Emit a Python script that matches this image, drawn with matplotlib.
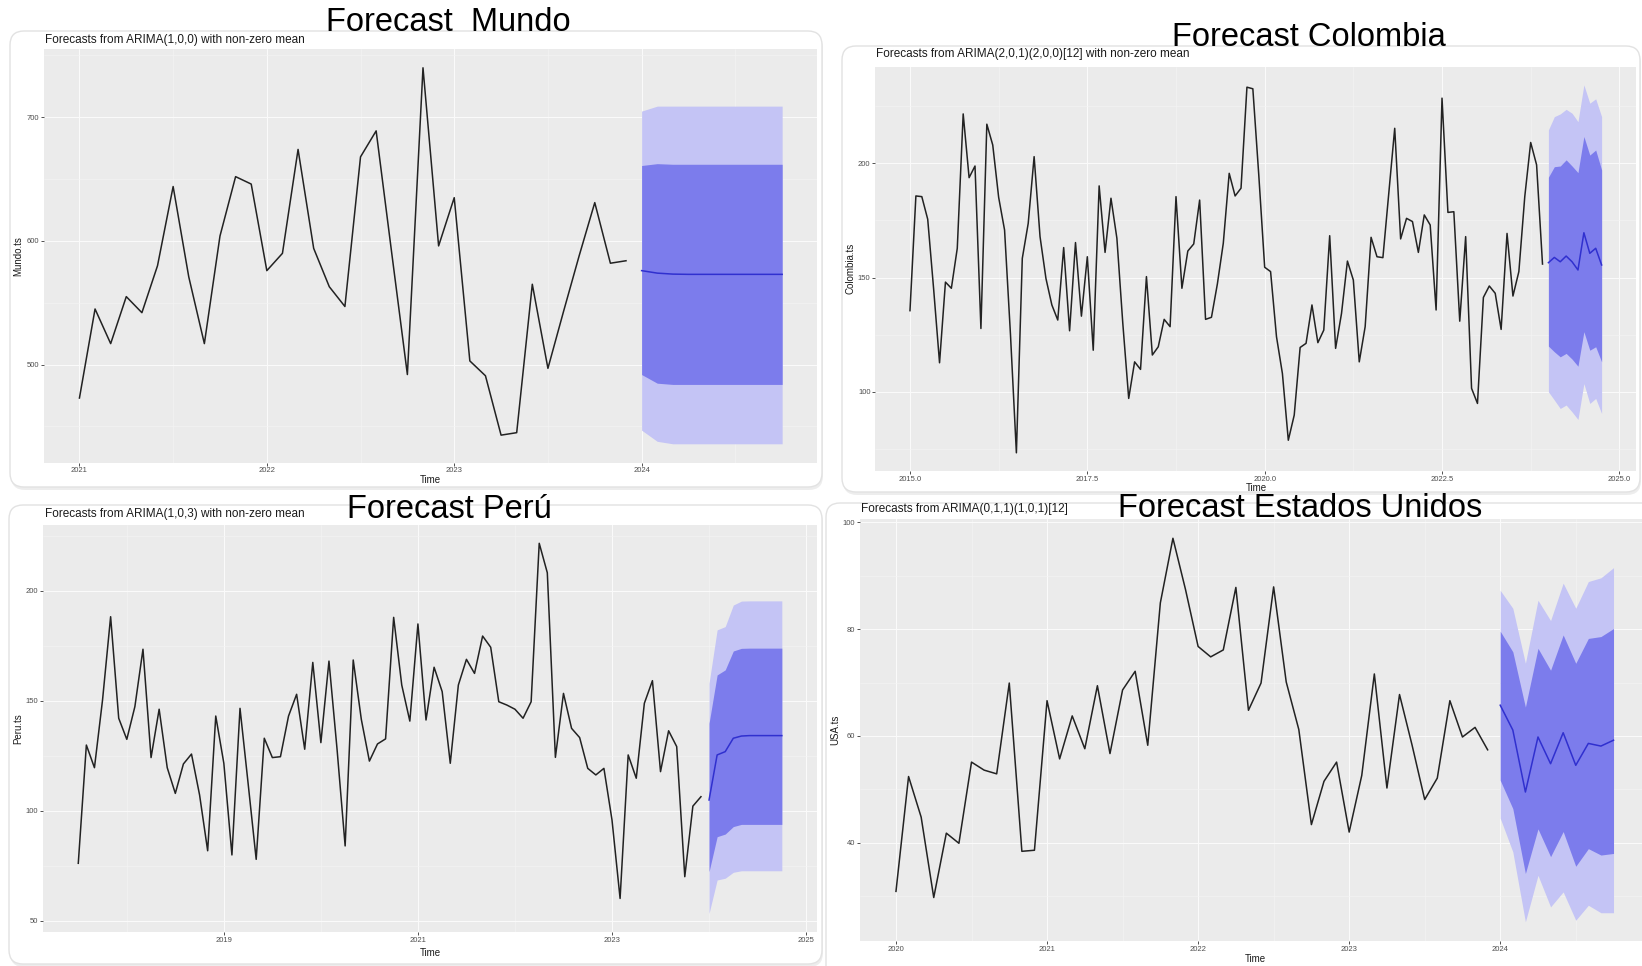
import matplotlib
matplotlib.use('Agg')
import matplotlib.pyplot as plt
import numpy as np
from matplotlib.patches import FancyBboxPatch
from matplotlib.transforms import IdentityTransform
from matplotlib.ticker import FixedLocator, FormatStrFormatter

W, H = 1642, 966
plt.rcParams['font.family'] = ['Liberation Sans', 'DejaVu Sans']

LIGHT = '#C4C4F5'
DARK = '#7C7CEC'
BLUE = '#3030CF'
PANEL = '#EBEBEB'

# ---- Mundo (monthly, from 2021-01) ----
mundo_obs = [473, 545, 517, 555, 542, 580, 644, 571, 517, 604, 652, 646,
             576, 590, 674, 594, 563, 547, 668, 689, 590, 492, 740, 596,
             635, 503, 491, 443, 445, 565, 497, 543, 588, 631, 582, 584]
mundo_mean = [576, 574, 573.2, 573, 573, 573, 573, 573, 573, 573]
mundo_hi80 = [661, 662.5, 662, 662, 662, 662, 662, 662, 662, 662]
mundo_lo80 = [492, 485, 484, 484, 484, 484, 484, 484, 484, 484]
mundo_hi95 = [705, 709, 709, 709, 709, 709, 709, 709, 709, 709]
mundo_lo95 = [447, 438, 436, 436, 436, 436, 436, 436, 436, 436]

# ---- Colombia (monthly, from 2015-01) ----
col_obs = [135.5, 185.7, 185.4, 175.5, 145, 112.7, 148.0, 145.3, 162.8, 221.6,
           193.7, 198.8, 127.7, 217.1, 208.0, 185.1, 170.8, 125, 73.3, 158.4,
           173.7, 202.9, 167.9, 149.6, 138.0, 131.4, 163.1, 126.7, 165.3, 133.1,
           159.1, 118.2, 190.1, 161.0, 184.7, 167.2, 130, 97.1, 113.1, 109.8,
           150.4, 116.1, 119.7, 131.7, 128.5, 185.4, 145.3, 161.6, 164.7, 183.9,
           131.7, 132.6, 147.2, 165.0, 195.6, 185.7, 189.1, 233.3, 232.6, 195,
           154.5, 152.6, 124.1, 108.0, 78.8, 89.8, 119.4, 121.2, 138.0, 121.5,
           127.0, 168.3, 119.0, 134.3, 157.2, 148.9, 113.1, 128.5, 167.6, 159.1,
           158.7, 187, 215.3, 166.9, 175.9, 174.5, 161.0, 177.4, 173.0, 135.8,
           228.5, 178.5, 178.8, 130.9, 167.9, 101.5, 94.9, 141.3, 146.3, 143.1,
           127.3, 169.3, 141.9, 152.6, 185.4, 209.1, 199.3, 155.9]
col_mean = [156.5, 158.8, 156.9, 159.4, 156.9, 153.3, 169.6, 160.6, 162.8, 155.5]
col_hi80 = [193.9, 198.5, 198.8, 201.5, 198.8, 195.9, 211.7, 203.6, 205.8, 197.1]
col_lo80 = [120.0, 117.5, 115.3, 116.8, 114.3, 111.2, 126.3, 118.2, 119.7, 113.1]
col_hi95 = [214.6, 220.4, 221.6, 223.6, 221.9, 218.2, 234.3, 226.3, 228.2, 220.4]
col_lo95 = [100.0, 96.4, 92.7, 94.2, 91.2, 87.9, 103.6, 94.9, 97.1, 90.5]

# ---- Peru (monthly, from 2017-07) ----
peru_obs = [76.1, 129.9, 119.6, 150.4, 188.3, 142.1, 132.5, 147.4, 173.5, 124.2,
            146.2, 119.6, 107.9, 121.3, 125.8, 107.2, 81.8, 143.1, 121.6, 79.9,
            146.6, 112.5, 77.9, 133.0, 124.2, 124.6, 143.1, 153.0, 128.0, 167.5,
            131.0, 168.1, 128, 84.0, 168.6, 141.6, 122.6, 130.4, 132.7, 188.0,
            157.2, 140.8, 185.0, 141.3, 165.3, 154.2, 121.6, 157.2, 168.9, 162.5,
            179.5, 174.4, 149.6, 148.1, 146.2, 142.1, 149.6, 221.7, 208.3, 124.3,
            153.4, 137.5, 133.3, 119.3, 116.3, 119.3, 95.8, 60.1, 125.4, 114.8,
            148.9, 159.2, 117.8, 136.4, 129.2, 70.0, 102.1, 106.4]
peru_mean = [104.9, 125.4, 126.9, 133.0, 134.0, 134.2, 134.2, 134.2, 134.2, 134.2]
peru_hi80 = [139.8, 161.8, 164.1, 172.7, 173.9, 174.0, 174.0, 174.0, 174.0, 174.0]
peru_lo80 = [72.3, 88.2, 89.4, 92.8, 93.8, 93.8, 93.8, 93.8, 93.8, 93.8]
peru_hi95 = [158.0, 182.3, 183.8, 193.6, 195.4, 195.5, 195.5, 195.5, 195.5, 195.5]
peru_lo95 = [53.3, 68.5, 69.3, 72.0, 72.7, 72.7, 72.7, 72.7, 72.7, 72.7]

# ---- USA (monthly, from 2020-01) ----
usa_obs = [30.9, 52.4, 44.8, 29.75, 41.8, 39.9, 55.1, 53.6, 52.9, 69.9, 38.4, 38.6,
           66.6, 55.7, 63.75, 57.6, 69.4, 56.7, 68.6, 72.1, 58.25, 84.9, 97.0, 87.4,
           76.75, 74.8, 76.1, 87.8, 64.8, 69.9, 87.9, 70.1, 61.2, 43.4, 51.5, 55.1,
           42.0, 52.6, 71.6, 50.25, 67.75, 58.25, 48.1, 52.1, 66.6, 59.8, 61.6, 57.4]
usa_mean = [65.75, 61.1, 49.5, 59.8, 54.8, 60.6, 54.5, 58.6, 58.1, 59.2]
usa_hi80 = [79.6, 75.75, 65.4, 76.4, 72.3, 78.9, 73.6, 78.25, 78.6, 80.1]
usa_lo80 = [51.7, 46.4, 34.25, 42.6, 37.4, 42.1, 35.6, 38.9, 37.7, 38.0]
usa_hi95 = [87.25, 83.9, 73.6, 85.4, 81.6, 88.6, 83.9, 88.9, 89.6, 91.5]
usa_lo95 = [44.6, 38.3, 25.2, 33.9, 28.0, 30.8, 25.5, 28.3, 26.9, 26.9]

fig = plt.figure(figsize=(W / 100, H / 100), dpi=100)
fig.patch.set_facecolor('white')


def card(x0, y0, x1, y1):
    # rounded white card with a soft shadow, pixel coords (top-left origin)
    style = 'round,pad=0,rounding_size=14'
    sh = FancyBboxPatch((x0 + 1, H - y1 - 3), x1 - x0, y1 - y0, boxstyle=style,
                        transform=IdentityTransform(), fc='black', alpha=0.07,
                        ec='none', zorder=-3)
    fig.add_artist(sh)
    c = FancyBboxPatch((x0, H - y1), x1 - x0, y1 - y0, boxstyle=style,
                       transform=IdentityTransform(), fc='white', ec='#E2E2E2',
                       lw=1, zorder=-2)
    fig.add_artist(c)


def fx(px):
    return px / W


def fy(py):
    return 1 - py / H


def panel(box, start, obs, mean, lo80, hi80, lo95, hi95, xmaj, xmin_, ymaj, ymin_,
          xfmt, ylabel, ylab_px, xlab_px):
    x0, y0, x1, y1 = box
    ax = fig.add_axes([fx(x0), fy(y1), (x1 - x0) / W, (y1 - y0) / H])
    ax.set_facecolor(PANEL)
    t_obs = start + np.arange(len(obs)) / 12
    t_fc = t_obs[-1] + (np.arange(len(mean)) + 1) / 12
    ax.fill_between(t_fc, lo95, hi95, color=LIGHT, lw=0)
    ax.fill_between(t_fc, lo80, hi80, color=DARK, lw=0)
    ax.plot(t_obs, obs, color='#222222', lw=1.1)
    ax.plot(t_fc, mean, color=BLUE, lw=1.1)

    xr = t_fc[-1] - t_obs[0]
    ax.set_xlim(t_obs[0] - 0.05 * xr, t_fc[-1] + 0.05 * xr)
    allv = np.concatenate([obs, lo95, hi95])
    yr = allv.max() - allv.min()
    ax.set_ylim(allv.min() - 0.05 * yr, allv.max() + 0.05 * yr)

    ax.xaxis.set_major_locator(FixedLocator(xmaj))
    ax.xaxis.set_minor_locator(FixedLocator(xmin_))
    ax.yaxis.set_major_locator(FixedLocator(ymaj))
    ax.yaxis.set_minor_locator(FixedLocator(ymin_))
    ax.xaxis.set_major_formatter(FormatStrFormatter(xfmt))
    ax.yaxis.set_major_formatter(FormatStrFormatter('%d'))
    ax.grid(which='major', color='#FAFAFA', lw=0.8)
    ax.grid(which='minor', color='#F4F4F4', lw=0.4)
    ax.set_axisbelow(True)
    for s in ax.spines.values():
        s.set_visible(False)
    ax.tick_params(which='major', length=2, width=0.6, color='#333333',
                   labelsize=5.5, labelcolor='#4D4D4D', pad=1.5)
    ax.tick_params(which='minor', length=0)

    ax.set_ylabel(ylabel, fontsize=7, color='#1A1A1A', va='center')
    ax.yaxis.set_label_coords((ylab_px - x0) / (x1 - x0), 0.5)
    ax.set_xlabel('Time', fontsize=7, color='#1A1A1A', va='center')
    ax.xaxis.set_label_coords((xlab_px[0] - x0) / (x1 - x0),
                              (y1 - xlab_px[1]) / (y1 - y0))
    return ax


# cards
card(10, 31, 822, 487)
card(842, 46, 1640, 492)
card(9, 505, 822, 964)
card(826, 503, 1665, 980)

panel((44.3, 49, 817.3, 462.6), 2021.0, mundo_obs, mundo_mean, mundo_lo80,
      mundo_hi80, mundo_lo95, mundo_hi95,
      [2021, 2022, 2023, 2024], [2020.5, 2021.5, 2022.5, 2023.5, 2024.5],
      [500, 600, 700], [450, 550, 650, 750], '%d', 'Mundo.ts', 18.5, (430, 480))

panel((875.4, 66.5, 1636.2, 471.2), 2015.0, col_obs, col_mean, col_lo80,
      col_hi80, col_lo95, col_hi95,
      [2015, 2017.5, 2020, 2022.5, 2025], [2016.25, 2018.75, 2021.25, 2023.75],
      [100, 150, 200], [75, 125, 175, 225], '%.1f', 'Colombia.ts', 850, (1256, 488))

panel((43.1, 524.8, 817, 931.9), 2017.5, peru_obs, peru_mean, peru_lo80,
      peru_hi80, peru_lo95, peru_hi95,
      [2019, 2021, 2023, 2025], [2018, 2020, 2022, 2024],
      [50, 100, 150, 200], [75, 125, 175, 225], '%d', 'Peru.ts', 18.5, (430, 953))

panel((860.1, 519.1, 1649.4, 941), 2020.0, usa_obs, usa_mean, usa_lo80,
      usa_hi80, usa_lo95, usa_hi95,
      [2020, 2021, 2022, 2023, 2024], [2020.5, 2021.5, 2022.5, 2023.5, 2024.5],
      [40, 60, 80, 100], [30, 50, 70, 90], '%d', 'USA.ts', 835, (1255, 959))

# subtitles (ggplot titles)
subs = [('Forecasts from ARIMA(1,0,0) with non-zero mean', 45, 40),
        ('Forecasts from ARIMA(2,0,1)(2,0,0)[12] with non-zero mean', 875.6, 54),
        ('Forecasts from ARIMA(1,0,3) with non-zero mean', 45, 514),
        ('Forecasts from ARIMA(0,1,1)(1,0,1)[12]', 861, 509)]
for s, x, y in subs:
    fig.text(fx(x), fy(y), s, fontsize=8.5, color='#1A1A1A', ha='left', va='center')

# big overlay titles
titles = [('Forecast  Mundo', 448, 31), ('Forecast Colombia', 1309, 46),
          ('Forecast Perú', 449, 518), ('Forecast Estados Unidos', 1300, 517)]
for s, x, y in titles:
    fig.text(fx(x), fy(y), s, fontsize=23.5, color='black', ha='center', va='baseline')

fig.savefig('out.png', dpi=100)
